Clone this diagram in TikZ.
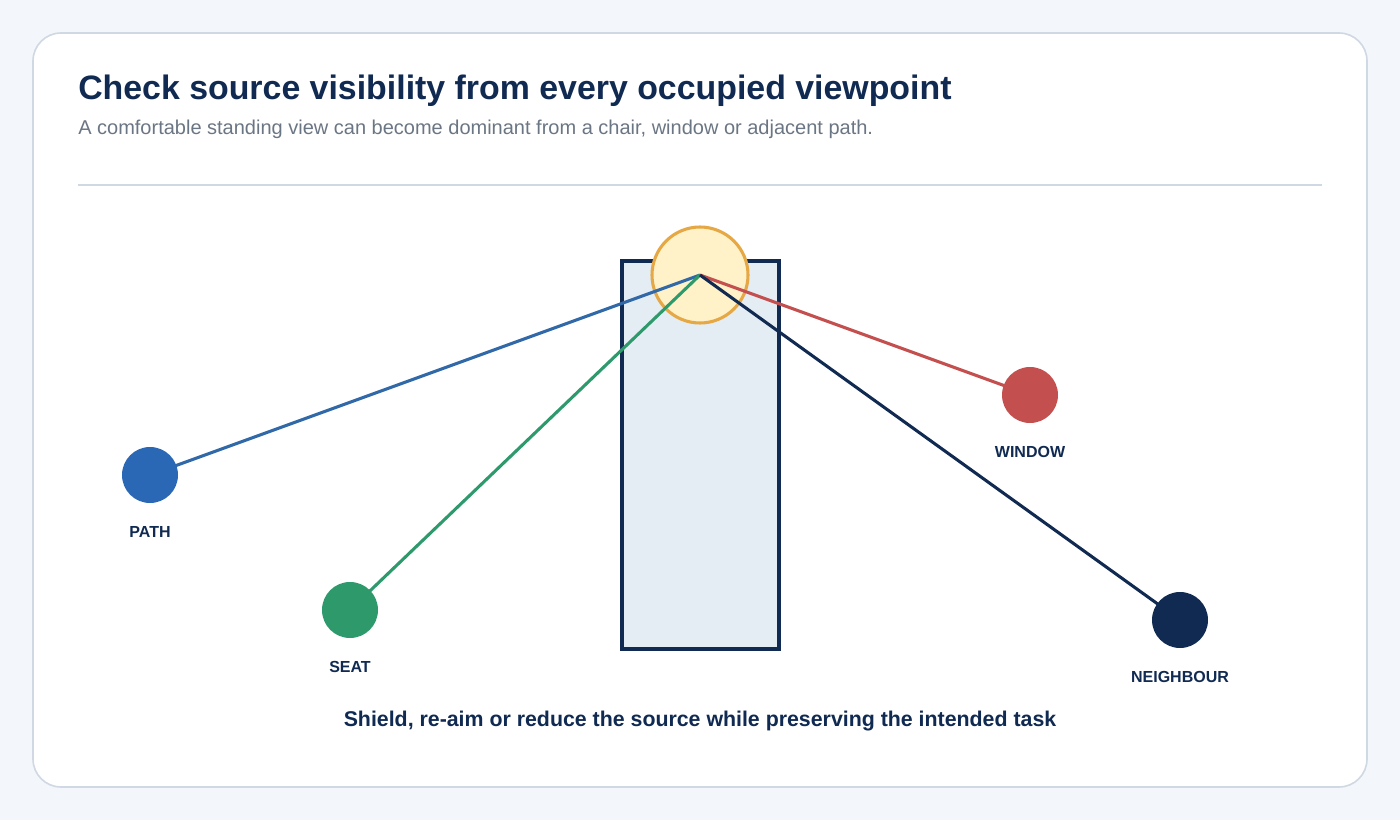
\documentclass[tikz,border=0pt]{standalone}
\usepackage{fontspec}
\setmainfont{Liberation Sans}
\usetikzlibrary{positioning}

\pgfdeclarelayer{card}
\pgfdeclarelayer{rays}
\pgfsetlayers{card,rays,main}

\definecolor{pagebg}{HTML}{F3F6FA}
\definecolor{cardline}{HTML}{CFD8E3}
\definecolor{navy}{HTML}{102A52}
\definecolor{subgray}{HTML}{6B7684}
\definecolor{glarefill}{HTML}{FFF1C8}
\definecolor{glareline}{HTML}{E5A845}
\definecolor{panelfill}{HTML}{E4ECF4}
\definecolor{pathblue}{HTML}{2A67B5}
\definecolor{pathline}{HTML}{3068A8}
\definecolor{seatgreen}{HTML}{2E9A6C}
\definecolor{windowred}{HTML}{C44F4F}

\begin{document}
\begin{tikzpicture}[
    x=0.75pt, y=-0.75pt,
    view/.style={circle, minimum size=42pt, inner sep=0pt},
    tag/.style={font=\fontsize{12}{14}\selectfont\bfseries, text=navy},
    sight/.style={line width=2.3pt},
]

    %==================== background / card ====================
    \begin{pgfonlayer}{card}
    \fill[pagebg] (0,0) rectangle (1400,820);
    \draw[cardline, fill=white, line width=1.2pt, rounded corners=21pt]
        (33,33) rectangle (1367,787);
    \end{pgfonlayer}
    \useasboundingbox (0,0) rectangle (1400,820);

    %==================== heading ====================
    \node[anchor=base west, inner sep=0pt, text=navy,
          font=\fontsize{25.4}{30}\selectfont\bfseries] (title) at (78,100)
        {Check source visibility from every occupied viewpoint};
    \node[anchor=base west, inner sep=0pt, text=subgray,
          font=\fontsize{15}{18}\selectfont] (subtitle) at (78,135)
        {A comfortable standing view can become dominant from a chair, window or adjacent path.};
    \draw[cardline, line width=1.2pt] (78,185) -- (1322,185);

    %==================== viewpoints ====================
    \node[view, fill=pathblue] (path) at (150,475) {};
    \node[view, fill=seatgreen] (seat) at (350,610) {};
    \node[view, fill=windowred] (window) at (1030,395) {};
    \node[view, fill=navy] (neighbour) at (1180,620) {};

    %==================== screen, source and sight lines ====================
    \begin{pgfonlayer}{rays}
    \draw[navy, fill=panelfill, line width=2.3pt] (622,261) rectangle (779,649);
    \node[circle, draw=glareline, fill=glarefill, line width=2.3pt,
          minimum size=72pt, inner sep=0pt] (source) at (700,275) {};
    % source -> viewpoints
    \draw[sight, pathline] (source.center) -- (path.center);
    \draw[sight, seatgreen] (source.center) -- (seat.center);
    \draw[sight, windowred] (source.center) -- (window.center);
    \draw[sight, navy] (source.center) -- (neighbour.center);
    \end{pgfonlayer}

    %==================== labels ====================
    \node[tag, below=14pt of path] {PATH};
    \node[tag, below=14pt of seat] {SEAT};
    \node[tag, below=14pt of window] {WINDOW};
    \node[tag, below=14pt of neighbour] {NEIGHBOUR};

    \node[font=\fontsize{16}{19}\selectfont\bfseries, text=navy] (caption) at (700,721)
        {Shield, re-aim or reduce the source while preserving the intended task};

\end{tikzpicture}
\end{document}
